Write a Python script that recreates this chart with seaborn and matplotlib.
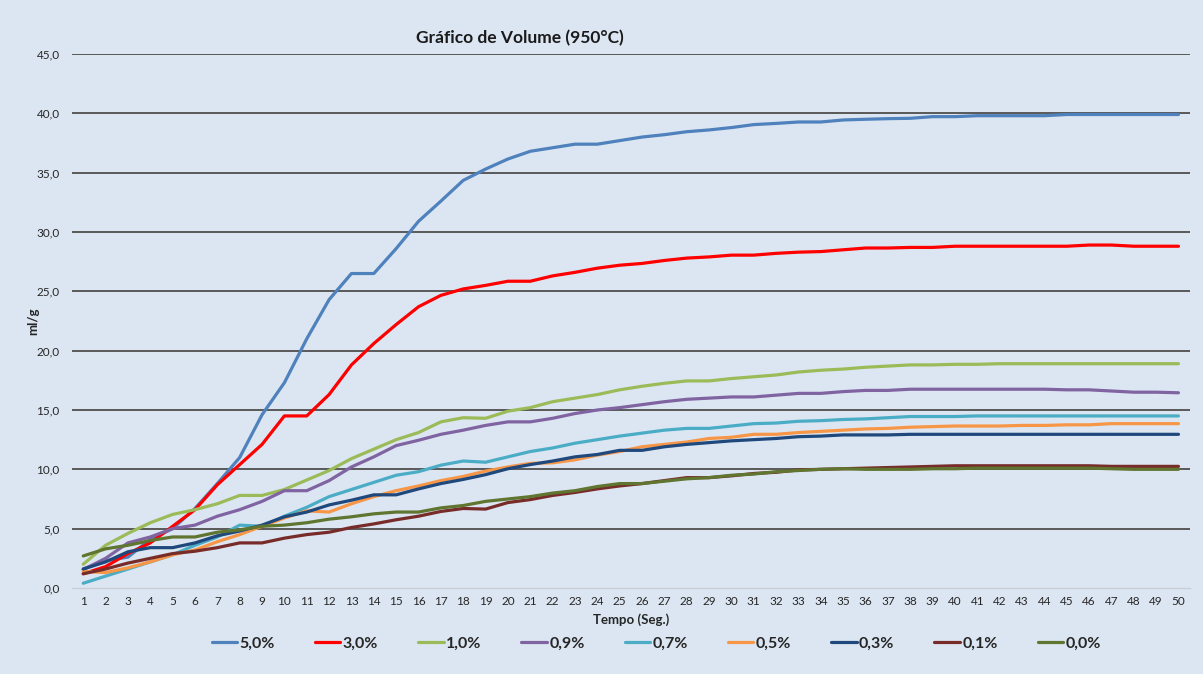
import numpy as np
import pandas as pd
import matplotlib
matplotlib.use("Agg")
import matplotlib.pyplot as plt
import seaborn as sns

# dados
tempo = list(range(1, 51))
series = ["5,0%", "3,0%", "1,0%", "0,9%", "0,7%", "0,5%", "0,3%", "0,1%", "0,0%"]
cores = ["#4F81BD", "#FF0000", "#9BBB59", "#8064A2", "#4BACC6",
         "#F79646", "#1F497D", "#772C2A", "#5F7530"]

s50 = [1.6, 2.3, 2.6, 4.1, 5.0, 6.7, 8.8, 11.0, 14.6, 17.3,
       21.0, 24.3, 26.5, 26.5, 28.6, 30.9, 32.6, 34.35, 35.3, 36.15,
       36.8, 37.1, 37.4, 37.4, 37.7, 38.0, 38.2, 38.45, 38.6, 38.8,
       39.05, 39.15, 39.27, 39.27, 39.44, 39.5, 39.55, 39.58, 39.72, 39.72,
       39.8, 39.8, 39.8, 39.8, 39.9, 39.9, 39.9, 39.9, 39.9, 39.9]
s30 = [1.2, 1.8, 2.9, 3.8, 5.2, 6.6, 8.7, 10.4, 12.1, 14.5,
       14.5, 16.3, 18.8, 20.6, 22.2, 23.7, 24.66, 25.2, 25.5, 25.85,
       25.85, 26.3, 26.6, 26.95, 27.2, 27.35, 27.6, 27.8, 27.9, 28.05,
       28.05, 28.2, 28.3, 28.35, 28.5, 28.65, 28.65, 28.7, 28.7, 28.8,
       28.8, 28.8, 28.8, 28.8, 28.8, 28.9, 28.9, 28.8, 28.8, 28.8]
s10 = [2.0, 3.6, 4.6, 5.5, 6.2, 6.6, 7.1, 7.8, 7.8, 8.3,
       9.1, 9.9, 10.9, 11.7, 12.5, 13.1, 14.0, 14.35, 14.3, 14.9,
       15.2, 15.7, 16.0, 16.3, 16.7, 17.0, 17.25, 17.45, 17.45, 17.65,
       17.8, 17.95, 18.2, 18.35, 18.45, 18.6, 18.7, 18.8, 18.8, 18.85,
       18.85, 18.9, 18.9, 18.9, 18.9, 18.9, 18.9, 18.9, 18.9, 18.9]
s09 = [1.55, 2.5, 3.8, 4.3, 5.0, 5.3, 6.05, 6.6, 7.3, 8.2,
       8.2, 9.05, 10.2, 11.05, 12.0, 12.45, 12.95, 13.3, 13.7, 14.0,
       14.0, 14.3, 14.7, 15.0, 15.2, 15.45, 15.7, 15.9, 16.0, 16.1,
       16.1, 16.25, 16.4, 16.4, 16.55, 16.65, 16.65, 16.75, 16.75, 16.75,
       16.75, 16.75, 16.75, 16.75, 16.7, 16.7, 16.6, 16.5, 16.5, 16.45]
s07 = [0.4, 1.0, 1.6, 2.2, 2.8, 3.6, 4.3, 5.3, 5.2, 6.05,
       6.8, 7.7, 8.3, 8.9, 9.5, 9.8, 10.35, 10.7, 10.6, 11.05,
       11.5, 11.8, 12.2, 12.5, 12.8, 13.05, 13.3, 13.45, 13.45, 13.65,
       13.85, 13.9, 14.05, 14.1, 14.2, 14.25, 14.35, 14.45, 14.45, 14.45,
       14.5, 14.5, 14.5, 14.5, 14.5, 14.5, 14.5, 14.5, 14.5, 14.5]
s05 = [1.4, 1.3, 1.7, 2.2, 2.8, 3.2, 3.9, 4.5, 5.2, 5.9,
       6.5, 6.4, 7.1, 7.7, 8.2, 8.6, 9.05, 9.4, 9.85, 10.2,
       10.5, 10.55, 10.8, 11.2, 11.5, 11.9, 12.1, 12.3, 12.6, 12.7,
       12.95, 12.95, 13.1, 13.2, 13.3, 13.4, 13.45, 13.55, 13.6, 13.65,
       13.65, 13.65, 13.7, 13.7, 13.75, 13.75, 13.85, 13.85, 13.85, 13.85]
s03 = [1.6, 2.2, 3.05, 3.4, 3.4, 3.8, 4.4, 4.8, 5.3, 6.0,
       6.4, 7.0, 7.4, 7.85, 7.85, 8.35, 8.8, 9.15, 9.55, 10.05,
       10.4, 10.7, 11.05, 11.25, 11.6, 11.6, 11.9, 12.1, 12.25, 12.4,
       12.5, 12.6, 12.75, 12.8, 12.9, 12.9, 12.9, 12.95, 12.95, 12.95,
       12.95, 12.95, 12.95, 12.95, 12.95, 12.95, 12.95, 12.95, 12.95, 12.95]
s01 = [1.2, 1.6, 2.1, 2.5, 2.9, 3.1, 3.4, 3.8, 3.8, 4.2,
       4.5, 4.7, 5.1, 5.4, 5.75, 6.05, 6.45, 6.7, 6.65, 7.2,
       7.45, 7.8, 8.05, 8.35, 8.6, 8.8, 9.05, 9.3, 9.3, 9.45,
       9.65, 9.75, 9.95, 10.0, 10.05, 10.1, 10.15, 10.2, 10.25, 10.3,
       10.3, 10.3, 10.3, 10.3, 10.3, 10.3, 10.25, 10.25, 10.25, 10.25]
s00 = [2.7, 3.3, 3.6, 4.0, 4.3, 4.3, 4.7, 4.9, 5.2, 5.3,
       5.5, 5.8, 6.0, 6.25, 6.4, 6.4, 6.75, 6.95, 7.3, 7.5,
       7.7, 8.0, 8.2, 8.55, 8.8, 8.8, 9.0, 9.2, 9.3, 9.5,
       9.6, 9.8, 9.9, 10.0, 10.05, 10.0, 10.0, 10.0, 10.05, 10.05,
       10.1, 10.1, 10.1, 10.1, 10.1, 10.1, 10.05, 10.0, 10.0, 10.0]

y_ticks = [0, 5, 10, 15, 20, 25, 30, 35, 40, 45]
y_labels = ["0,0", "5,0", "10,0", "15,0", "20,0", "25,0", "30,0", "35,0", "40,0", "45,0"]

valores = [s50, s30, s10, s09, s07, s05, s03, s01, s00]
df = pd.concat([pd.DataFrame({"tempo": tempo, "valor": v, "serie": nome})
                for nome, v in zip(series, valores)], ignore_index=True)

sns.set_style("white")
plt.rcParams['font.family'] = ['Lato', 'DejaVu Sans']

fundo = "#DCE6F2"
fig = plt.figure(figsize=(12.03, 6.74), dpi=100, facecolor=fundo)
ax = fig.add_axes([0.0599, 0.1276, 0.929, 0.7923])
ax.set_facecolor(fundo)

sns.lineplot(data=df, x="tempo", y="valor", hue="serie", hue_order=series,
             palette=cores, linewidth=2.3, ax=ax)

ax.set_xlim(0.5, 50.5)
ax.set_ylim(0, 45)
ax.set_yticks(y_ticks)
ax.set_yticklabels(y_labels)
ax.set_xticks(tempo)
ax.set_xticklabels([str(t) for t in tempo])
ax.tick_params(axis="both", length=0, labelsize=8.5, colors="#262626")
ax.tick_params(axis="y", pad=9)
ax.tick_params(axis="x", pad=6)

for y in y_ticks[1:]:
    ax.axhline(y, color="#595959", linewidth=1.4, zorder=0)

for lado in ["left", "right", "top"]:
    ax.spines[lado].set_visible(False)
ax.spines["bottom"].set_color("#C8CDD6")
ax.spines["bottom"].set_linewidth(1)

ax.set_xlabel("Tempo (Seg.)", fontsize=9.5, fontweight="bold", labelpad=4)
ax.set_ylabel("ml/g", fontsize=9.5, fontweight="bold", labelpad=-2)

fig.text(0.432, 0.944, "Gráfico de Volume (950°C)", fontsize=12.5,
         fontweight="bold", ha="center", va="center", color="#1a1a1a")

sns.move_legend(ax, "center", bbox_to_anchor=(0.5455, 0.045),
                bbox_transform=fig.transFigure, ncol=9, frameon=False,
                title=None, handlelength=1.6, handletextpad=0.15,
                columnspacing=2.5, fontsize=11.5)
for t in ax.get_legend().get_texts():
    t.set_fontweight("bold")

fig.savefig("out.png", dpi=100, facecolor=fundo)
